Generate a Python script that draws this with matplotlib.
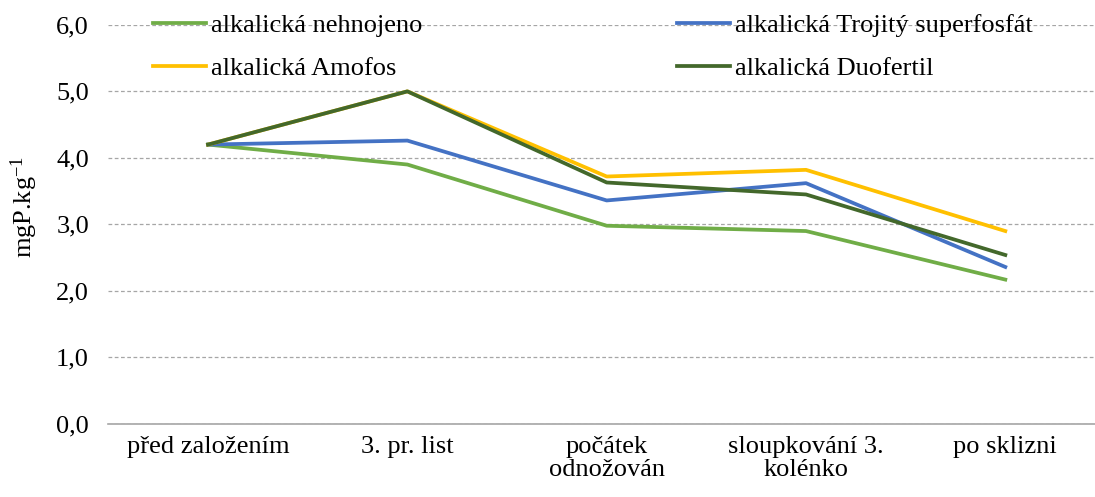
import numpy as np
import matplotlib.pyplot as plt

plt.rcParams['font.family'] = ['Liberation Serif', 'DejaVu Serif']
plt.rcParams['mathtext.default'] = 'regular'

categories = ['před založením', '3. pr. list', 'počátek\nodnožován',
              'sloupkování 3.\nkolénko', 'po sklizni']

nehnojeno = [4.20, 3.90, 2.98, 2.90, 2.17]
trojity = [4.20, 4.26, 3.36, 3.62, 2.36]
amofos = [4.20, 5.00, 3.72, 3.82, 2.90]
duofertil = [4.20, 5.00, 3.63, 3.45, 2.54]

x = np.arange(len(categories))

fig = plt.figure(figsize=(10.95, 4.97), dpi=100)
ax = fig.add_axes([0.099, 0.147, 0.901, 0.803])

l1, = ax.plot(x, nehnojeno, color='#70AD47', lw=2.7, label='alkalická nehnojeno')
l2, = ax.plot(x, trojity, color='#4472C4', lw=2.7, label='alkalická Trojitý superfosfát')
l3, = ax.plot(x, amofos, color='#FFC000', lw=2.7, label='alkalická Amofos')
l4, = ax.plot(x, duofertil, color='#43682B', lw=2.7, label='alkalická Duofertil')

ax.set_ylim(0, 6)
ax.set_xlim(-0.5, 4.45)
ax.set_yticks(np.arange(0, 6.1, 1))
ax.set_yticklabels([f'{v:.1f}'.replace('.', ',') for v in np.arange(0, 6.1, 1)])
ax.set_xticks(x)
ax.set_xticklabels(categories, linespacing=1.05)
ax.tick_params(axis='both', length=0, labelsize=19)
ax.tick_params(axis='x', pad=9)
ax.tick_params(axis='y', pad=14)

ax.grid(axis='y', color='#A6A6A6', linestyle='--', linewidth=0.9, dashes=(3, 2))
ax.set_axisbelow(True)
for s in ['left', 'right', 'top']:
    ax.spines[s].set_visible(False)
ax.spines['bottom'].set_color('#A6A6A6')
ax.spines['bottom'].set_linewidth(1.2)
ax.spines['bottom'].set_zorder(0)

ax.set_ylabel('mgP.kg$^{-1}$', fontsize=19)
ax.yaxis.set_label_coords(-0.069, 0.544)

leg1 = fig.legend(handles=[l1, l3], loc='center left', bbox_to_anchor=(153 / 1095, 1 - 47 / 497),
                  frameon=False, fontsize=19, borderpad=0, borderaxespad=0, handlelength=2.0,
                  handletextpad=0.2, labelspacing=0.74)
leg2 = fig.legend(handles=[l2, l4], loc='center left', bbox_to_anchor=(677 / 1095, 1 - 47 / 497),
                  frameon=False, fontsize=19, borderpad=0, borderaxespad=0, handlelength=2.0,
                  handletextpad=0.2, labelspacing=0.74)

fig.savefig('out.png', dpi=100)
